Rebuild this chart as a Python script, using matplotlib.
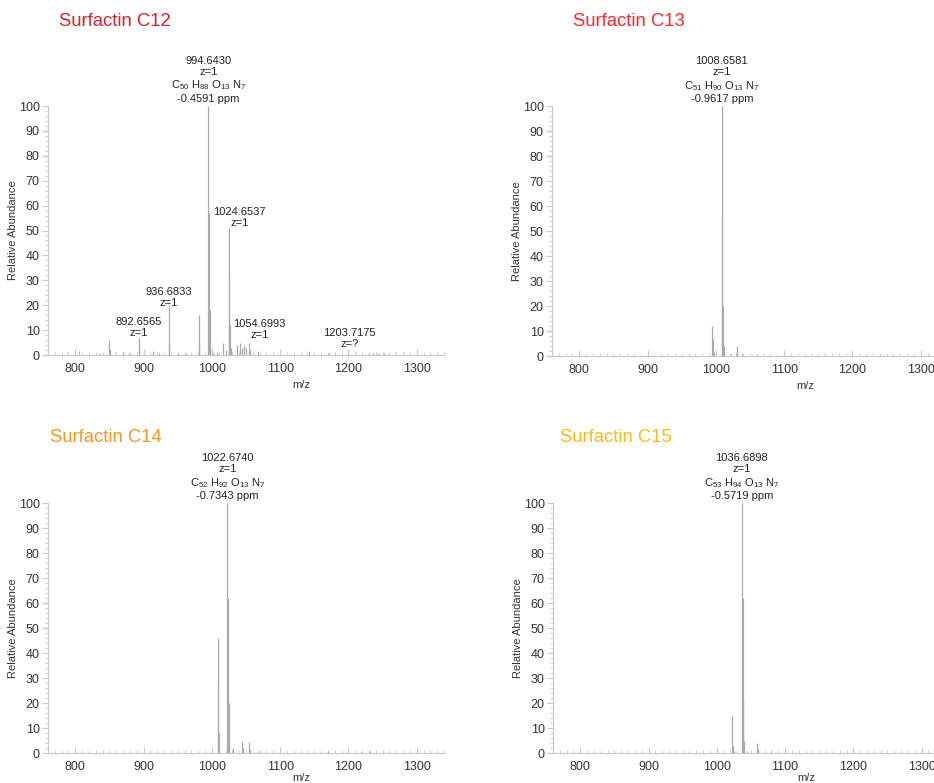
import matplotlib
matplotlib.use("Agg")
import matplotlib.pyplot as plt
import numpy as np
from matplotlib.ticker import MultipleLocator

plt.rcParams['font.family'] = ['Liberation Sans', 'DejaVu Sans']
plt.rcParams['mathtext.default'] = 'regular'

# C12 spectrum (m/z, relative abundance)
c12_mz = [806, 835, 849.6, 850.6, 870, 878, 892.66, 893.6, 914, 922, 936.68, 937.7,
          950, 962, 980.6, 981.6, 994.64, 995.64, 996.64, 997.6, 1002, 1008, 1016.6,
          1020, 1024.65, 1025.65, 1026.65, 1027.6, 1036.6, 1040.6, 1044, 1046.6, 1050,
          1054.7, 1055.7, 1068, 1100, 1142, 1172, 1200, 1228, 1236, 1244, 1252, 1260]
c12_int = [1.5, 0.8, 6, 2, 1.2, 1, 7, 2.5, 1.5, 0.8, 20, 5,
           0.8, 1, 16, 5, 100, 57, 18, 4, 1, 1.2, 5,
           2, 51, 32, 12, 3, 4, 5, 3, 4, 3,
           5, 2, 1.5, 0.5, 1.5, 1, 1, 0.6, 0.8, 0.7, 0.7, 0.4]

# C13 spectrum
c13_mz = [994.64, 995.64, 996.6, 1008.66, 1009.66, 1010.66, 1011.6, 1022, 1030.64,
          1031.64, 1038, 1054, 1160, 1220, 1240, 1260]
c13_int = [12, 7, 1.5, 100, 56, 20, 4, 1, 4,
           2, 0.8, 0.5, 0.5, 0.5, 0.3, 0.3]

# C14 spectrum
c14_mz = [1008.66, 1009.66, 1010.66, 1022.67, 1023.67, 1024.67, 1025.7, 1030.6,
          1044.66, 1045.66, 1054.6, 1055.6, 1068, 1170, 1218, 1232, 1250]
c14_int = [46, 28, 8, 100, 62, 20, 4, 2,
           5, 2, 4.5, 1.5, 1, 0.8, 0.6, 1, 0.4]

# C15 spectrum
c15_mz = [1022.67, 1023.67, 1024.6, 1036.69, 1037.69, 1038.69, 1039.7, 1044,
          1058.67, 1059.67, 1080]
c15_int = [15, 3, 1, 100, 62, 21, 5, 1,
           4, 1.5, 0.8]

titles = ['Surfactin C12', 'Surfactin C13', 'Surfactin C14', 'Surfactin C15']
title_colors = ['#dc1f26', '#ff2626', '#f7941d', '#fdb913']
base_peaks = ['994.6430', '1008.6581', '1022.6740', '1036.6898']
base_mz = [994.64, 1008.66, 1022.67, 1036.69]
formulas = [r'C$_{50}$ H$_{88}$ O$_{13}$ N$_{7}$', r'C$_{51}$ H$_{90}$ O$_{13}$ N$_{7}$',
            r'C$_{52}$ H$_{92}$ O$_{13}$ N$_{7}$', r'C$_{53}$ H$_{94}$ O$_{13}$ N$_{7}$']
ppm = ['-0.4591 ppm', '-0.9617 ppm', '-0.7343 ppm', '-0.5719 ppm']

# extra labels on the C12 panel
c12_labels = ['1024.6537\nz=1', '936.6833\nz=1', '892.6565\nz=1', '1054.6993\nz=1', '1203.7175\nz=?']
c12_label_pos = [(1040, 51), (937, 19), (893, 7), (1070, 6), (1202, 2.5)]

spectra = [(c12_mz, c12_int), (c13_mz, c13_int), (c14_mz, c14_int), (c15_mz, c15_int)]

fig = plt.figure(figsize=(9.34, 7.83), dpi=100)
rects = [[0.0514, 0.5466, 0.424, 0.318], [0.591, 0.5453, 0.424, 0.319],
         [0.0514, 0.0383, 0.424, 0.319], [0.592, 0.0383, 0.424, 0.319]]
title_pos = [(59, 21), (573, 21), (50, 437), (560, 437)]

for i in range(4):
    ax = fig.add_axes(rects[i])
    mz, inten = spectra[i]
    ax.vlines(mz, 0, inten, color='#a9a9a9', lw=0.9)
    ax.set_xlim(760, 1340)
    ax.set_ylim(0, 100)
    for s in ['top', 'right']:
        ax.spines[s].set_visible(False)
    for s in ['left', 'bottom']:
        ax.spines[s].set_color('#c8c8c8')
        ax.spines[s].set_linewidth(0.8)
    ax.xaxis.set_major_locator(MultipleLocator(100))
    ax.xaxis.set_minor_locator(MultipleLocator(10))
    ax.yaxis.set_major_locator(MultipleLocator(10))
    ax.yaxis.set_minor_locator(MultipleLocator(2))
    ax.tick_params(axis='x', which='both', direction='in', colors='#c8c8c8', labelcolor='#333333',
                   labelsize=9, pad=6)
    ax.tick_params(axis='x', which='major', length=4)
    ax.tick_params(axis='x', which='minor', length=2)
    ax.tick_params(axis='y', which='both', direction='out', colors='#c8c8c8', labelcolor='#333333',
                   labelsize=9, pad=2)
    ax.tick_params(axis='y', which='major', length=4)
    ax.tick_params(axis='y', which='minor', length=2)
    ax.set_ylabel('Relative Abundance', fontsize=8, color='#333333')
    ax.yaxis.set_label_coords(-0.075, 0.5)
    ax.set_xlabel('m/z', fontsize=8, color='#333333')
    ax.xaxis.set_label_coords(0.64, -0.1 if i < 2 else -0.082)
    ax.text(base_mz[i], 101, base_peaks[i] + '\nz=1\n' + formulas[i] + '\n' + ppm[i],
            ha='center', va='bottom', fontsize=8, color='#222222', linespacing=1.15)
    if i == 0:
        for lab, (x, y) in zip(c12_labels, c12_label_pos):
            ax.text(x, y, lab, ha='center', va='bottom', fontsize=8, color='#222222',
                    linespacing=1.1)
    tx, ty = title_pos[i]
    fig.text(tx / 934, 1 - ty / 783, titles[i], color=title_colors[i], fontsize=13.3,
             ha='left', va='center')

fig.savefig('out.png', dpi=100)
